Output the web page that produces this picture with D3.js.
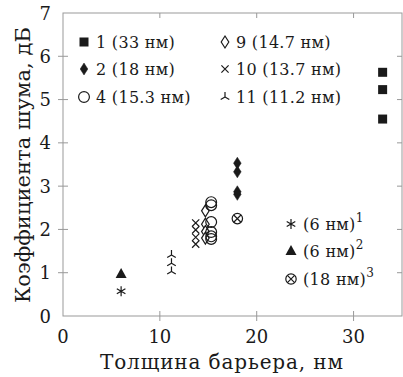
<!DOCTYPE html>
<html>
<head>
<meta charset="utf-8">
<script src="https://cdn.jsdelivr.net/npm/d3@7"></script>
<style>
  body { margin: 0; background: #fff; }
</style>
</head>
<body>
<div id="chart"></div>
<script>
// series: barrier thickness (nm) and noise figure values (dB)
var s1x = 33,   s1y = [5.63, 5.23, 4.55];
var s2x = 18,   s2y = [3.53, 3.33, 2.87, 2.81];
var s4x = 15.3, s4y = [2.63, 2.56, 2.17, 1.94, 1.84, 1.78];
var s9x = 14.7, s9y = [2.43, 2.12, 1.95, 1.80];
var s10x = 13.7, s10y = [2.15, 1.99, 1.82, 1.66];
var s11x = 11.2, s11y = [1.41, 1.22, 1.03];
var ref1 = [6, 0.57], ref2 = [6, 0.97], ref3 = [18, 2.25];

var xTicks = [0, 10, 20, 30];
var yTicks = [0, 1, 2, 3, 4, 5, 6, 7];
var legendA = ["1 (33 нм)", "2 (18 нм)", "4 (15.3 нм)"];
var legendB = ["9 (14.7 нм)", "10 (13.7 нм)", "11 (11.2 нм)"];
var legendC = [["(6 нм)", "1"], ["(6 нм)", "2"], ["(18 нм)", "3"]];

var W = 403, H = 377;
var svg = d3.select("#chart").append("svg").attr("width", W).attr("height", H)
  .attr("font-family", "'DejaVu Serif', 'Liberation Serif', serif");

var x = d3.scaleLinear().domain([0, 35]).range([63, 402]);
var y = d3.scaleLinear().domain([0, 7]).range([316, 13]);

var axisCol = "#999", ink = "#1a1a1a";

// frame
svg.append("rect")
  .attr("x", x(0)).attr("y", y(7))
  .attr("width", x(35) - x(0)).attr("height", y(0) - y(7))
  .attr("fill", "none").attr("stroke", axisCol).attr("stroke-width", 1);

// ticks
var g = svg.append("g").attr("stroke", axisCol).attr("stroke-width", 1);
xTicks.forEach(function(t) {
  if (t > 0) {
    g.append("line").attr("x1", x(t)).attr("x2", x(t)).attr("y1", y(0) - 5).attr("y2", y(0) + 5);
    g.append("line").attr("x1", x(t)).attr("x2", x(t)).attr("y1", y(7)).attr("y2", y(7) + 5);
  }
});
yTicks.forEach(function(t) {
  if (t > 0 && t < 7) {
    g.append("line").attr("x1", x(0) - 5).attr("x2", x(0) + 5).attr("y1", y(t)).attr("y2", y(t));
    g.append("line").attr("x1", x(35) - 5).attr("x2", x(35)).attr("y1", y(t)).attr("y2", y(t));
  }
});

svg.selectAll(".xt").data(xTicks).enter().append("text")
  .attr("x", function(d) { return x(d); }).attr("y", 343)
  .attr("text-anchor", "middle").attr("font-size", 18).attr("fill", ink)
  .text(function(d) { return d; });

svg.selectAll(".yt").data(yTicks).enter().append("text")
  .attr("x", 51).attr("y", function(d) { return y(d) + 6.5; })
  .attr("text-anchor", "end").attr("font-size", 18).attr("fill", ink)
  .text(function(d) { return d; });

svg.append("text").attr("x", 100).attr("y", 369)
  .attr("font-size", 20).attr("fill", ink)
  .attr("textLength", 243).attr("lengthAdjust", "spacing")
  .text("Толщина барьера, нм");

svg.append("text").attr("transform", "translate(30,303) rotate(-90)")
  .attr("font-size", 21).attr("fill", ink)
  .attr("textLength", 276).attr("lengthAdjust", "spacing")
  .text("Коэффициента шума, дБ");

// marker shapes
function mark(sel, type) {
  var p = sel.append("g");
  if (type == "square") {
    p.append("rect").attr("x", -4.5).attr("y", -4.5).attr("width", 9).attr("height", 9).attr("fill", ink);
  } else if (type == "diamond" || type == "odiamond") {
    p.append("path").attr("d", "M0,-6L3.8,0L0,6L-3.8,0Z")
      .attr("fill", type == "diamond" ? ink : "#fff")
      .attr("stroke", ink).attr("stroke-width", type == "diamond" ? 0.5 : 1.2);
  } else if (type == "circle") {
    p.append("circle").attr("r", 5.4).attr("fill", "none").attr("stroke", ink).attr("stroke-width", 1.2);
  } else if (type == "x") {
    p.append("path").attr("d", "M-3.6,-3.6L3.6,3.6M-3.6,3.6L3.6,-3.6")
      .attr("stroke", ink).attr("stroke-width", 1.2).attr("fill", "none");
  } else if (type == "tri") {
    p.append("path").attr("d", "M0,0L0,-5M0,0L4.3,2.5M0,0L-4.3,2.5")
      .attr("stroke", ink).attr("stroke-width", 1.2).attr("fill", "none");
  } else if (type == "asterisk") {
    p.append("path").attr("d", "M0,-5L0,5M-4.3,-2.5L4.3,2.5M-4.3,2.5L4.3,-2.5")
      .attr("stroke", ink).attr("stroke-width", 1.2).attr("fill", "none");
  } else if (type == "triangle") {
    p.append("path").attr("d", "M0,-6L5.5,4L-5.5,4Z").attr("fill", ink);
  } else if (type == "otimes") {
    p.append("circle").attr("r", 5.2).attr("fill", "#fff").attr("stroke", ink).attr("stroke-width", 1.2);
    p.append("path").attr("d", "M-3.6,-3.6L3.6,3.6M-3.6,3.6L3.6,-3.6")
      .attr("stroke", ink).attr("stroke-width", 1.2);
  }
  return p;
}

function series(xv, ys, type) {
  var gg = svg.append("g");
  ys.forEach(function(v) {
    mark(gg, type).attr("transform", "translate(" + x(xv) + "," + y(v) + ")");
  });
}

series(s10x, s10y, "x");
series(s9x, s9y, "odiamond");
series(s4x, s4y, "circle");
series(s11x, s11y, "tri");
series(s2x, s2y, "diamond");
series(s1x, s1y, "square");
series(ref1[0], [ref1[1]], "asterisk");
series(ref2[0], [ref2[1]], "triangle");
series(ref3[0], [ref3[1]], "otimes");

// legends
var rowsY = [42, 69, 97];
var typesA = ["square", "diamond", "circle"], typesB = ["odiamond", "x", "tri"];
rowsY.forEach(function(ry, i) {
  mark(svg, typesA[i]).attr("transform", "translate(84," + ry + ")");
  svg.append("text").attr("x", 96).attr("y", ry + 5.5).attr("font-size", 16)
    .attr("letter-spacing", 0.3).attr("fill", ink).text(legendA[i]);
  mark(svg, typesB[i]).attr("transform", "translate(225," + ry + ")");
  svg.append("text").attr("x", 236).attr("y", ry + 5.5).attr("font-size", 16)
    .attr("letter-spacing", 0.3).attr("fill", ink).text(legendB[i]);
});

var rowsC = [224, 251, 279], typesC = ["asterisk", "triangle", "otimes"];
rowsC.forEach(function(ry, i) {
  mark(svg, typesC[i]).attr("transform", "translate(291," + ry + ")");
  var t = svg.append("text").attr("x", 303).attr("y", ry + 5.5).attr("font-size", 16)
    .attr("letter-spacing", 0.3).attr("fill", ink);
  t.append("tspan").text(legendC[i][0]);
  t.append("tspan").attr("font-size", 12).attr("dy", -8).text(legendC[i][1]);
});
</script>
</body>
</html>
